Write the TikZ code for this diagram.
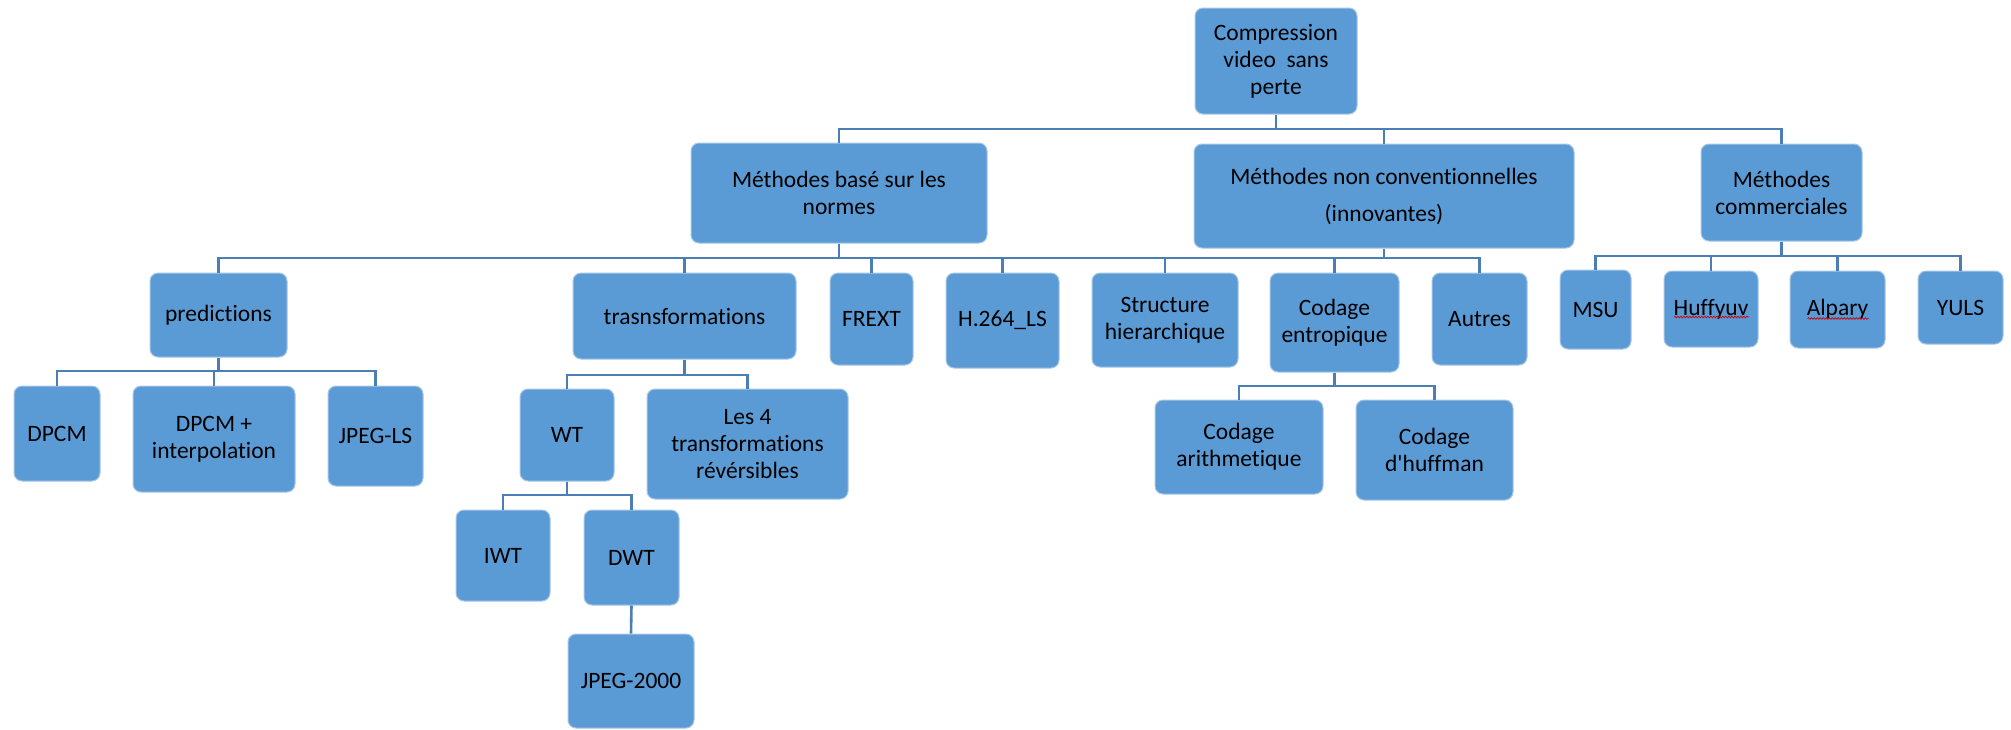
\documentclass[tikz,border=0pt]{standalone}
\usepackage{fontspec}
\setmainfont{Carlito}[Ligatures={NoCommon,NoRequired,NoContextual}]
\usetikzlibrary{decorations.pathmorphing}
\definecolor{boxblue}{HTML}{5B9BD5}
\definecolor{boxedge}{HTML}{A7C7E7}
\definecolor{linkblue}{HTML}{4A7EB5}
\tikzset{
  box/.style={rectangle, rounded corners=8pt, fill=boxblue, draw=boxedge,
    line width=1pt, inner sep=0pt, align=center, text=black,
    font=\fontsize{23.5}{27}\selectfont},
  conn/.style={draw=linkblue, line width=2.6pt},
  spell/.style={draw=red!80!black, line width=0.7pt,
    decorate, decoration={snake, amplitude=0.8pt, segment length=3pt}}
}
\begin{document}
\begin{tikzpicture}[x=1pt, y=-1pt]
\useasboundingbox (0,0) rectangle (2011,729);
\fill[white] (0,0) rectangle (2011,729);

% bus levels
\coordinate (b0) at (0,129);
\coordinate (b1) at (0,258);
\coordinate (b2) at (0,256);
\coordinate (b3) at (0,371);
\coordinate (b4) at (0,375);
\coordinate (b5) at (0,495);
\coordinate (b6) at (0,386);

% root
\node[box, minimum width=162pt, minimum height=106pt] (root) at (1276,61) {Compression\\video~~sans\\perte};

% first level
\node[box, minimum width=296pt, minimum height=100pt] (norm) at (839,193) {Méthodes basé sur les\\normes};
\node[box, minimum width=380pt, minimum height=104pt] (nonconv) at (1384,196) {Méthodes non conventionnelles\\[10pt](innovantes)};
\node[box, minimum width=161pt, minimum height=97pt] (comm) at (1781.5,192.5) {Méthodes\\commerciales};

% second level: standards-based
\node[box, minimum width=137pt, minimum height=84pt] (pred) at (218.5,315) {predictions};
\node[box, minimum width=223pt, minimum height=86pt] (tr) at (684.5,316) {trasnsformations};
\node[box, minimum width=83pt, minimum height=92pt] (frext) at (871.5,319) {FREXT};
\node[box, minimum width=113pt, minimum height=95pt] (h264) at (1002.5,320.5) {H.264\_LS};

% second level: unconventional
\node[box, minimum width=146pt, minimum height=94pt] (struct) at (1165,320) {Structure\\hierarchique};
\node[box, minimum width=129pt, minimum height=99pt] (codent) at (1334.5,322.5) {Codage\\entropique};
\node[box, minimum width=95pt, minimum height=92pt] (autres) at (1479.5,319) {Autres};

% second level: commercial
\node[box, minimum width=71pt, minimum height=79pt] (msu) at (1595.5,309.5) {MSU};
\node[box, minimum width=94pt, minimum height=76pt] (huff) at (1711,309) {Huffyuv};
\node[box, minimum width=95pt, minimum height=77pt] (alp) at (1837.5,309.5) {Alpary};
\node[box, minimum width=85pt, minimum height=73pt] (yuls) at (1960.5,307.5) {YULS};

% third level
\node[box, minimum width=86pt, minimum height=95pt] (dpcm) at (57,433.5) {DPCM};
\node[box, minimum width=162pt, minimum height=106pt] (dpcmi) at (214,439) {DPCM +\\interpolation};
\node[box, minimum width=95pt, minimum height=100pt] (jpegls) at (375.5,436) {JPEG-LS};
\node[box, minimum width=94pt, minimum height=92pt] (wt) at (567,435) {WT};
\node[box, minimum width=201pt, minimum height=110pt] (les4) at (747.5,444) {Les 4\\transformations\\révérsibles};
\node[box, minimum width=168pt, minimum height=94pt] (arith) at (1239,447) {Codage\\arithmetique};
\node[box, minimum width=157pt, minimum height=100pt] (huffm) at (1434.5,450) {Codage\\d\textquotesingle huffman};

% fourth and fifth level
\node[box, minimum width=94pt, minimum height=91pt] (iwt) at (503,555.5) {IWT};
\node[box, minimum width=95pt, minimum height=95pt] (dwt) at (631.5,557.5) {DWT};
\node[box, minimum width=126pt, minimum height=94pt] (j2k) at (631,681) {JPEG-2000};

% connectors: root
\draw[conn] (root.south) -- (root.south |- b0);
\draw[conn] (norm.north) -- (norm.north |- b0) -- (comm.north |- b0) -- (comm.north);
\draw[conn] (nonconv.north) -- (nonconv.north |- b0);

% connectors: standards-based
\draw[conn] (norm.south) -- (norm.south |- b1);
\draw[conn] (pred.north) -- (pred.north |- b1) -- (h264.north |- b1) -- (h264.north);
\draw[conn] (tr.north) -- (tr.north |- b1);
\draw[conn] (frext.north) -- (frext.north |- b1);

% connectors: unconventional
\draw[conn] (nonconv.south) -- (nonconv.south |- b1);
\draw[conn] (h264.north |- b1) -- (autres.north |- b1) -- (autres.north);
\draw[conn] (struct.north) -- (struct.north |- b1);
\draw[conn] (codent.north) -- (codent.north |- b1);

% connectors: commercial
\draw[conn] (comm.south) -- (comm.south |- b2);
\draw[conn] (msu.north) -- (msu.north |- b2) -- (yuls.north |- b2) -- (yuls.north);
\draw[conn] (huff.north) -- (huff.north |- b2);
\draw[conn] (alp.north) -- (alp.north |- b2);

% connectors: predictions
\draw[conn] (pred.south) -- (pred.south |- b3);
\draw[conn] (dpcm.north) -- (dpcm.north |- b3) -- (jpegls.north |- b3) -- (jpegls.north);
\draw[conn] (dpcmi.north) -- (dpcmi.north |- b3);

% connectors: transformations
\draw[conn] (tr.south) -- (tr.south |- b4);
\draw[conn] (wt.north) -- (wt.north |- b4) -- (les4.north |- b4) -- (les4.north);

% connectors: wavelets
\draw[conn] (wt.south) -- (wt.south |- b5);
\draw[conn] (iwt.north) -- (iwt.north |- b5) -- (dwt.north |- b5) -- (dwt.north);
\draw[conn] (dwt.south) -- (j2k.north);

% connectors: entropy coding
\draw[conn] (codent.south) -- (codent.south |- b6);
\draw[conn] (arith.north) -- (arith.north |- b6) -- (huffm.north |- b6) -- (huffm.north);

% spell-check marks under product names
\draw[spell] ([xshift=-37pt, yshift=-8pt]huff.center) -- ([xshift=38pt, yshift=-8pt]huff.center);
\draw[spell] ([xshift=-30pt, yshift=-9pt]alp.center) -- ([xshift=31pt, yshift=-9pt]alp.center);
\end{tikzpicture}
\end{document}
